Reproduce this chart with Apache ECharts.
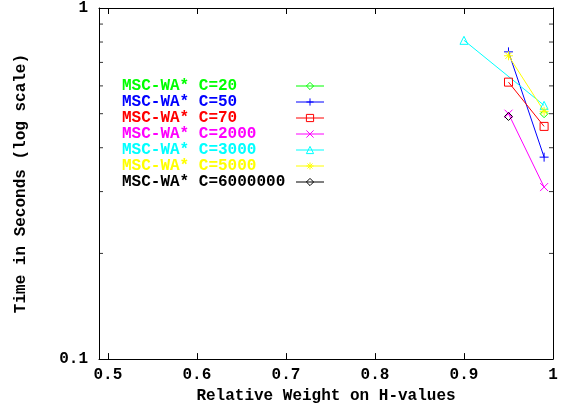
<!DOCTYPE html>
<html><head><meta charset="utf-8">
<script src="https://cdn.jsdelivr.net/npm/echarts@6/dist/echarts.min.js"></script>
<style>html,body{margin:0;padding:0;background:#fff}#c{width:563px;height:409px}</style>
</head><body><div id="c"></div>
<script>
// ---- data ----
const seriesNames = ['MSC-WA* C=20','MSC-WA* C=50','MSC-WA* C=70','MSC-WA* C=2000','MSC-WA* C=3000','MSC-WA* C=5000','MSC-WA* C=6000000'];
const seriesColors = ['#00ff00','#0000ff','#ff0000','#ff00ff','#00ffff','#ffff00','#000000'];
const c20 = [[0.99, 0.500]];
const c50 = [[0.95, 0.750], [0.99, 0.376]];
const c70 = [[0.95, 0.615], [0.99, 0.460]];
const c2000 = [[0.95, 0.500], [0.99, 0.309]];
const c3000 = [[0.90, 0.809], [0.99, 0.528]];
const c5000 = [[0.95, 0.731], [0.99, 0.508]];
const c6000000 = [[0.95, 0.491]];
const yMinorTicks = [0.2, 0.3, 0.4, 0.5, 0.6, 0.7, 0.8, 0.9];
const xMin = 0.49, xMax = 1.0, yMin = 0.1, yMax = 1;

const seriesData = [c20, c50, c70, c2000, c3000, c5000, c6000000];
const symbols = [
  'diamond',
  'path://M5,0L5,10M0,5L10,5',
  'rect',
  'path://M0,0L10,10M10,0L0,10',
  'triangle',
  'path://M5,0L5,10M0,5L10,5M1.5,1.5L8.5,8.5M8.5,1.5L1.5,8.5',
  'diamond'
];
const symbolSizes = [8, 9, 8, 8, 8, 9, 8];

const FONT = '"Liberation Mono", "DejaVu Sans Mono", monospace';
const chart = echarts.init(document.getElementById('c'));

const lineSeries = seriesNames.map((n, i) => ({
  name: n,
  type: 'line',
  data: seriesData[i],
  symbol: symbols[i],
  symbolSize: symbolSizes[i],
  showAllSymbol: true,
  lineStyle: {color: seriesColors[i], width: 1},
  itemStyle: {color: 'rgba(0,0,0,0)', borderColor: seriesColors[i], borderWidth: 1},
  emphasis: {disabled: true}
}));

// minor ticks on left and right borders of the log axis
const tickLeft = {
  type: 'scatter', name: 'tickL',
  data: yMinorTicks.map(v => [xMin, v]),
  symbol: 'rect', symbolSize: [4, 1], symbolOffset: [2, 0],
  clip: false, itemStyle: {color: '#000'}
};
const tickRight = {
  type: 'scatter', name: 'tickR',
  data: yMinorTicks.map(v => [xMax, v]),
  symbol: 'rect', symbolSize: [4, 1], symbolOffset: [-2, 0],
  clip: false, itemStyle: {color: '#000'}
};

const labelStyle = {fontFamily: FONT, fontWeight: 'bold', fontSize: 16, color: '#000'};

chart.setOption({
  backgroundColor: '#fff',
  animation: false,
  grid: {left: 99, right: 10, top: 7, bottom: 46, containLabel: false},
  legend: {
    data: seriesNames.map((n, i) => ({name: n, textStyle: {color: seriesColors[i]}})),
    orient: 'vertical',
    left: 122,
    top: 78,
    padding: 0,
    itemGap: 0,
    itemWidth: 28,
    itemHeight: 9,
    align: 'right',
    selectedMode: false,
    lineStyle: {width: 1},
    itemStyle: {borderWidth: 1},
    formatter: name => '{n|' + name + '}',
    textStyle: {
      fontFamily: FONT, fontWeight: 'bold', fontSize: 16, lineHeight: 16,
      rich: {n: {fontFamily: FONT, fontWeight: 'bold', fontSize: 16, lineHeight: 16, width: 169, align: 'left'}}
    }
  },
  xAxis: [{
    type: 'value', min: xMin, max: xMax, splitNumber: 5,
    name: 'Relative Weight on H-values', nameLocation: 'middle', nameGap: 26,
    nameTextStyle: labelStyle,
    axisLine: {show: true, onZero: false, lineStyle: {color: '#000', width: 1}},
    axisTick: {show: true, inside: true, length: 6, lineStyle: {color: '#000'}},
    axisLabel: Object.assign({margin: 8, formatter: v => (Math.abs(v * 10 - Math.round(v * 10)) < 1e-6 ? String(+v.toFixed(1)) : '')}, labelStyle),
    splitLine: {show: false}
  }, {
    type: 'value', min: xMin, max: xMax, splitNumber: 5, position: 'top',
    axisLine: {show: true, onZero: false, lineStyle: {color: '#000', width: 1}},
    axisTick: {show: true, inside: true, length: 6, lineStyle: {color: '#000'}},
    axisLabel: {show: false},
    splitLine: {show: false}
  }],
  yAxis: [{
    type: 'log', logBase: 10, min: yMin, max: yMax,
    name: 'Time in Seconds (log scale)', nameLocation: 'middle', nameGap: 70,
    nameTextStyle: labelStyle,
    axisLine: {show: true, onZero: false, lineStyle: {color: '#000', width: 1}},
    axisTick: {show: true, inside: true, length: 6, lineStyle: {color: '#000'}},
    axisLabel: Object.assign({margin: 11, formatter: v => String(v)}, labelStyle),
    splitLine: {show: false}
  }, {
    type: 'log', logBase: 10, min: yMin, max: yMax, position: 'right',
    axisLine: {show: true, onZero: false, lineStyle: {color: '#000', width: 1}},
    axisTick: {show: false},
    axisLabel: {show: false},
    splitLine: {show: false}
  }],
  series: [tickLeft, tickRight].concat(lineSeries)
});
</script>
</body></html>
